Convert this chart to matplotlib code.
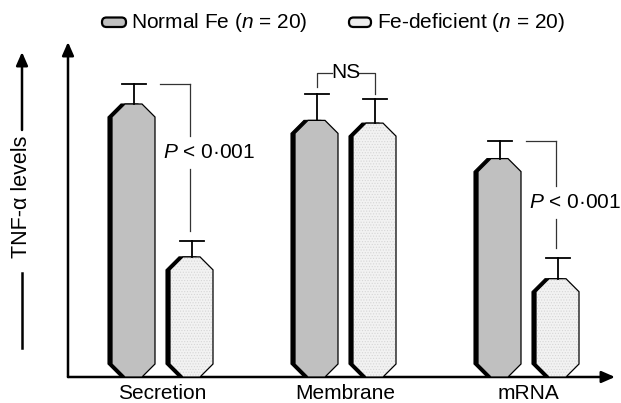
import numpy as np
import matplotlib
matplotlib.use('Agg')
import matplotlib.pyplot as plt
from matplotlib.patches import Polygon, FancyBboxPatch

plt.rcParams['font.family'] = ['Liberation Sans', 'DejaVu Sans']
plt.rcParams['mathtext.fontset'] = 'custom'
plt.rcParams['mathtext.rm'] = 'Liberation Sans'
plt.rcParams['mathtext.it'] = 'Liberation Sans:italic'
plt.rcParams['hatch.linewidth'] = 0.5

# data (arbitrary units)
categories    = ['Secretion', 'Membrane', 'mRNA']
normal        = [100, 94, 80]
normal_err    = [7.3, 9.5, 6.6]
deficient     = [44, 93, 36]
deficient_err = [5.9, 8.8, 7.7]
labels        = ['Normal Fe ($n$ = 20)', 'Fe-deficient ($n$ = 20)']
stats         = ['$P$ < 0\u00b7001', 'NS', '$P$ < 0\u00b7001']

W, H = 621, 403
fig = plt.figure(figsize=(W / 100, H / 100), dpi=100)
fig.patch.set_facecolor('white')

# overlay in pixel units for legend and y label decorations
ov = fig.add_axes([0, 0, 1, 1])
ov.set_xlim(0, W)
ov.set_ylim(H, 0)
ov.axis('off')

# axes box in pixels: x 68..615, y 42..377 (from top)
ax = fig.add_axes([68 / W, (H - 377) / H, (615 - 68) / W, (377 - 42) / H])
px_x = 183.0   # pixels per category unit
px_y = 2.73    # pixels per value unit
xmin = -(162.5 - 68) / px_x
ax.set_xlim(xmin, xmin + (615 - 68) / px_x)
ax.set_ylim(0, (377 - 42) / px_y)
for s in ax.spines.values():
    s.set_visible(False)
ax.set_yticks([])
ax.set_xticks(range(len(categories)))
ax.set_xticklabels(categories, fontsize=15)
ax.tick_params(axis='x', length=0, pad=5)
ax.set_facecolor('none')

# axis arrows
arw = dict(arrowstyle='-|>,head_length=0.8,head_width=0.35', lw=1.8,
           color='black', shrinkA=0, shrinkB=0)
ax.annotate('', xy=(0, 1), xytext=(0, 0), xycoords='axes fraction',
            textcoords='axes fraction', arrowprops=arw, annotation_clip=False)
ax.annotate('', xy=(1, 0), xytext=(0, 0), xycoords='axes fraction',
            textcoords='axes fraction', arrowprops=arw, annotation_clip=False)

off = 29 / px_x
bw = 43 / px_x
cx = 13 / px_x
cy = 13 / px_y
sh = 4 / px_x
cap = 12 / px_x


def octagon(xc, h, shift=0.0):
    x0, x1 = xc - bw / 2 - shift, xc + bw / 2 - shift
    return [(x0 + cx, 0), (x0, cy), (x0, h - cy), (x0 + cx, h),
            (x1 - cx, h), (x1, h - cy), (x1, cy), (x1 - cx, 0)]


def draw_bar(xc, h, err, face, stipple=False):
    ax.add_patch(Polygon(octagon(xc, h, sh), closed=True, facecolor='black',
                         edgecolor='black', lw=0.8, zorder=2))
    if stipple:
        ax.add_patch(Polygon(octagon(xc, h), closed=True, facecolor=face,
                             edgecolor='#d6d6d6', lw=0, hatch='......', zorder=3))
        ax.add_patch(Polygon(octagon(xc, h), closed=True, fill=False,
                             edgecolor='black', lw=0.9, zorder=4))
    else:
        ax.add_patch(Polygon(octagon(xc, h), closed=True, facecolor=face,
                             edgecolor='black', lw=0.9, zorder=4))
    ax.plot([xc, xc], [h, h + err], color='black', lw=1.3, zorder=5)
    ax.plot([xc - cap, xc + cap], [h + err, h + err], color='black', lw=1.3, zorder=5)


x = np.arange(len(categories))
for i in range(len(categories)):
    draw_bar(x[i] - off, normal[i], normal_err[i], '#c0c0c0')
    draw_bar(x[i] + off, deficient[i], deficient_err[i], '#f2f2f2', stipple=True)

# significance brackets
lc = dict(color='#333333', lw=0.9, zorder=5)
for i in [0, 2]:
    xn, xd = x[i] - off, x[i] + off
    top = normal[i] + normal_err[i]
    bot = deficient[i] + deficient_err[i] + 3.5
    xb = xd - 2 / px_x
    ymid = (top + bot) / 2 + (2 if i == 0 else -3)
    gap = 6
    ax.plot([xn + 26 / px_x, xb], [top, top], **lc)
    ax.plot([xb, xb], [top, ymid + gap], **lc)
    ax.plot([xb, xb], [ymid - gap, bot], **lc)
    ax.text(xb + 20 / px_x, ymid, stats[i], ha='center', va='center',
            fontsize=15, zorder=6)

# NS bracket
xn, xd = x[1] - off, x[1] + off
ytop = max(normal[1] + normal_err[1], deficient[1] + deficient_err[1]) + 8
ax.plot([xn, xn, xn + 15 / px_x], [normal[1] + normal_err[1] + 2.7, ytop, ytop], **lc)
ax.plot([xd - 17 / px_x, xd, xd], [ytop, ytop, deficient[1] + deficient_err[1] + 2], **lc)
ax.text(x[1], ytop, stats[1], ha='center', va='center', fontsize=15, zorder=6)

# legend drawn by hand at the top (pixel units)
legend_items = [(102, 24, 131, '#c0c0c0'), (349, 22, 377, '#ececec')]
for (lx, lw_, tx, col), lab in zip(legend_items, labels):
    ov.add_patch(FancyBboxPatch((lx, 17.5), lw_, 9.5,
                                boxstyle='round,pad=0,rounding_size=4.5',
                                facecolor=col, edgecolor='black', lw=1.6))
    ov.text(tx, 22, lab, ha='left', va='center', fontsize=15)

# y label with lines
ov.text(22, 197, 'TNF-\u03b1 levels', rotation=90, ha='center',
        va='center', fontsize=15.5)
ov.plot([22, 22], [273, 348], color='black', lw=1.8)
ov.annotate('', xy=(22, 52), xytext=(22, 130), xycoords='data',
            textcoords='data', arrowprops=arw, annotation_clip=False)

fig.savefig('out.png', dpi=100)
